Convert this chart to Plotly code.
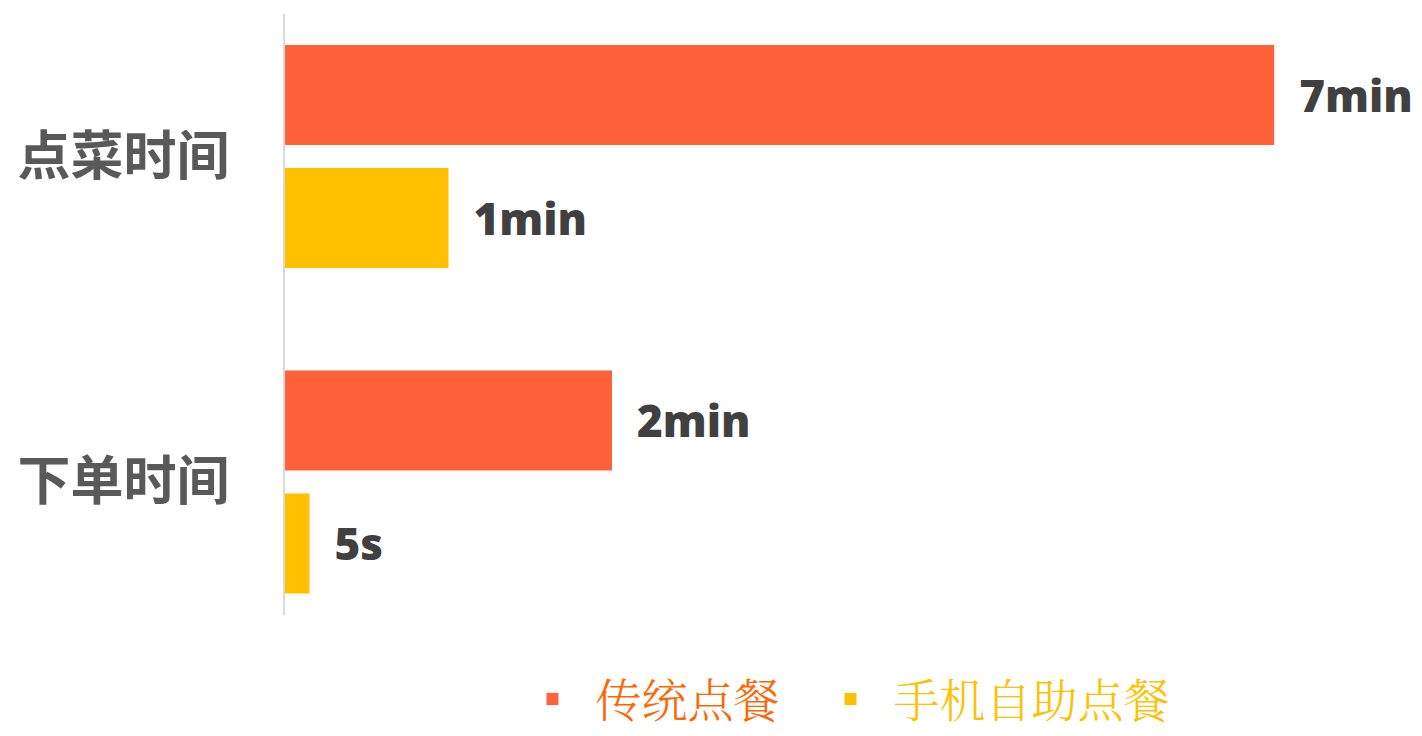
import plotly.graph_objects as go

categories = ["点菜时间", "下单时间"]
series_names = ["传统点餐", "手机自助点餐"]
traditional_values = [6.05, 2.0]      # bar lengths as drawn (relative units)
traditional_labels = ["7min", "2min"]
mobile_values = [1.0, 0.15]
mobile_labels = ["1min", "5s"]

bar_colors = ["#FF6138", "#FFC000"]
legend_colors = ["#FF6600", "#FFC000"]

label_font = dict(family="Open Sans, Noto Sans, sans-serif", size=44, color="#404040", weight=800)
pad = "\u2002"
tail = "\u2002\u2002"

fig = go.Figure()
fig.add_trace(go.Bar(
    y=categories, x=traditional_values, orientation="h",
    name=f'<span style="color:{legend_colors[0]}">{pad}{series_names[0]}{tail}</span>',
    marker=dict(color=bar_colors[0], line=dict(width=0)),
    text=[pad + t for t in traditional_labels], textposition="outside",
    textfont=label_font, cliponaxis=False,
))
fig.add_trace(go.Bar(
    y=categories, x=mobile_values, orientation="h",
    name=f'<span style="color:{legend_colors[1]}">{pad}{series_names[1]}</span>',
    marker=dict(color=bar_colors[1], line=dict(width=0)),
    text=[pad + t for t in mobile_labels], textposition="outside",
    textfont=label_font, cliponaxis=False,
))

# page body adds an 8px margin, so the figure is 8px smaller than the window
fig.update_layout(
    width=1414, height=728,
    margin=dict(l=277, r=0, t=6, b=121, autoexpand=False),
    paper_bgcolor="white", plot_bgcolor="white",
    barmode="group", bargap=0.244, bargroupgap=0.187,
    showlegend=True,
    legend=dict(
        orientation="h", x=0.500, xanchor="center", y=-0.14, yanchor="middle",
        font=dict(family="Noto Serif CJK SC, Noto Sans CJK SC, serif", size=46, weight=300),
        traceorder="normal",
    ),
    xaxis=dict(range=[0, 1137 / 163.5], showgrid=False, zeroline=False,
               showticklabels=False, showline=False, ticks="", automargin=False),
    yaxis=dict(range=[1.409, -0.438], showgrid=False, zeroline=False,
               showline=True, linecolor="#D9D9D9", linewidth=2,
               ticks="", ticklabelstandoff=43, automargin=False,
               tickfont=dict(family="Noto Sans CJK SC, sans-serif", size=53,
                             color="#595959", weight="bold")),
)

fig.write_html("out.html")
